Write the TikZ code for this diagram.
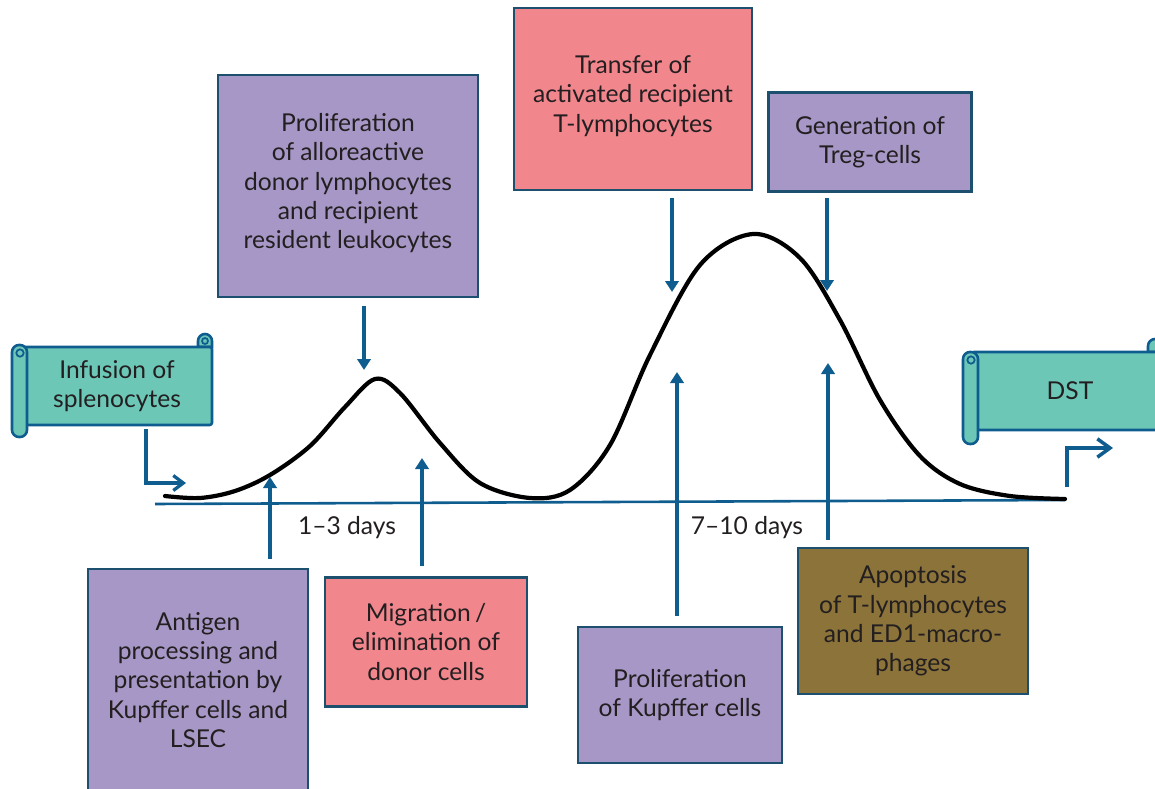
\documentclass[tikz,border=0pt]{standalone}
\usepackage{fontspec}
\setmainfont{Lato}
\usetikzlibrary{arrows.meta}
\definecolor{purp}{HTML}{A797C6}
\definecolor{pinkb}{HTML}{F1868D}
\definecolor{tealb}{HTML}{6CC7B7}
\definecolor{olive}{HTML}{8B733A}
\definecolor{bord}{HTML}{1D4F6E}
\definecolor{arr}{HTML}{0F5C8E}
\definecolor{txt}{HTML}{231F20}
\tikzset{
  evbox/.style={draw=bord, line width=2.2pt, text=txt, align=center, inner sep=0pt,
    font=\fontsize{21}{25}\selectfont},
  scrollbody/.style={draw=arr, fill=tealb, line width=2.2pt, text=txt, align=center, inner sep=0pt,
    rounded corners=2pt, font=\fontsize{21}{25}\selectfont},
  scrollline/.style={draw=arr, fill=tealb, line width=2.2pt},
  varrow/.style={draw=arr, line width=3pt, -{Triangle[length=0.33cm,width=0.4cm]}},
  earrow/.style={draw=arr, line width=2.8pt, -{Straight Barb[length=0.3cm,width=0.45cm]}},
  daylbl/.style={text=txt, font=\fontsize{21}{25}\selectfont, inner sep=0pt},
}
\begin{document}
\begin{tikzpicture}[x=0.03cm, y=-0.03cm]
\useasboundingbox (0,0) rectangle (1155,788);

% axis and curve
\coordinate (ax0) at (155,504);
\coordinate (ax1) at (1065,500);
\draw[arr, line width=2.2pt] (ax0) -- (ax1);
\draw[black, line width=3.6pt, line cap=round] plot[smooth, tension=0.55] coordinates {
 (165,496) (200,498) (235,491) (270,475) (310,446) (345,407) (375,379) (400,393) (440,443) (480,483) (530,498)
 (570,490) (610,445) (650,355) (700,265) (753,234) (800,258) (840,320) (880,400) (920,456) (960,484) (1010,496) (1065,499)};

% top boxes
\node[evbox, fill=purp, minimum width=7.8cm, minimum height=6.66cm] (prolif) at (348,186)
  {Proliferation\\of alloreactive\\donor lymphocytes\\and recipient\\resident leukocytes\rule[-0.3cm]{0pt}{0pt}};
\node[evbox, fill=pinkb, minimum width=7.14cm, minimum height=5.46cm] (transfer) at (633,99)
  {Transfer of\\activated recipient\\T-lymphocytes\rule[-0.3cm]{0pt}{0pt}};
\node[evbox, fill=purp, minimum width=6.09cm, minimum height=2.97cm] (treg) at (870,142)
  {Generation of\\Treg-cells};

% bottom boxes
\node[evbox, fill=purp, minimum width=6.6cm, minimum height=6.66cm] (antigen) at (198,680)
  {Antigen\\processing and\\presentation by\\Kupffer cells and\\LSEC};
\node[evbox, fill=pinkb, minimum width=6.06cm, minimum height=3.87cm] (migr) at (426,642)
  {Migration\,/\\elimination of\\donor cells};
\node[evbox, fill=purp, minimum width=6.12cm, minimum height=4.08cm] (kupffer) at (680,695)
  {Proliferation\\of Kupffer cells};
\node[evbox, fill=olive, minimum width=6.9cm, minimum height=4.38cm] (apopt) at (913,621)
  {Apoptosis\\of T-lymphocytes\\and ED1-macro-\\phages};

% infusion scroll
\draw[scrollline] (198,347) -- (198,341) arc (180:0:0.21cm) -- (212,347) -- cycle;
\draw[arr, line width=1.5pt] (205,341) circle (0.09cm);
\node[scrollbody, minimum width=5.7cm, minimum height=2.34cm] (infusion) at (117,386)
  {Infusion of\\splenocytes};
\draw[scrollline, rounded corners=0.21cm] (12,345) rectangle (27,437);
\draw[arr, line width=1.5pt] (20,353) circle (0.11cm);

% DST scroll
\draw[scrollline] (1148,352) -- (1148,346) arc (180:0:0.21cm) -- (1162,352) -- cycle;
\node[scrollbody, minimum width=5.9cm, minimum height=2.34cm] (dst) at (1070,391)
  {DST};
\draw[scrollline, rounded corners=0.21cm] (963,352) rectangle (978,444);
\draw[arr, line width=1.5pt] (971,360) circle (0.11cm);

% day labels
\node[daylbl] (d13) at (347,528) {1--3 days};
\node[daylbl] (d710) at (747,528) {7--10 days};

% arrow targets
\coordinate (a1) at (364,370);
\coordinate (a2) at (672,292);
\coordinate (a3) at (827,291);
\coordinate (a4) at (270,477);
\coordinate (a5) at (422,458);
\coordinate (a6) at (677,372);
\coordinate (a7) at (828,363);
\draw[varrow, shorten <=0.24cm] (prolif.south -| a1) -- (a1);
\draw[varrow, shorten <=0.21cm] (transfer.south -| a2) -- (a2);
\draw[varrow, shorten <=0.15cm] (treg.south -| a3) -- (a3);
\draw[varrow, shorten <=0.27cm] (antigen.north -| a4) -- (a4);
\draw[varrow, shorten <=0.3cm] (migr.north -| a5) -- (a5);
\draw[varrow, shorten <=0.3cm] (kupffer.north -| a6) -- (a6);
\draw[varrow, shorten <=0.21cm] (apopt.north -| a7) -- (a7);

% elbow arrows
\coordinate (e1c) at (146,483);
\coordinate (e1) at (186,483);
\draw[earrow, shorten <=0.09cm] (infusion.south -| e1c) |- (e1);
\coordinate (e2s) at (1067,487);
\coordinate (e2) at (1113,448);
\draw[earrow, line width=3pt, -{Straight Barb[length=0.38cm,width=0.55cm]}] (e2s) |- (e2);
\end{tikzpicture}
\end{document}
